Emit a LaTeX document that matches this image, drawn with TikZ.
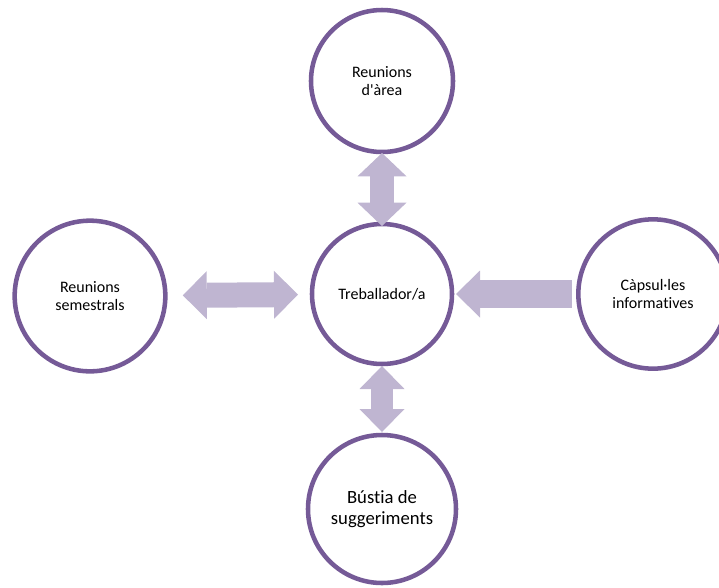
\documentclass[tikz,border=0pt]{standalone}
\usepackage{fontspec}
\setmainfont{Carlito}[Ligatures={TeXOff,NoCommon}]
\usetikzlibrary{arrows.meta}
\definecolor{ringpurple}{RGB}{117,90,151}
\definecolor{arrowlilac}{RGB}{191,181,209}

\begin{document}
\begin{tikzpicture}[x=0.75pt,y=-0.75pt,
    bubble/.style={circle, draw=ringpurple, line width=3.4pt, align=center, inner sep=0pt, outer sep=0pt, font=\fontsize{12}{13}\selectfont},
    fatarrow/.style={draw=arrowlilac, line width=#1}]

                \useasboundingbox (0,0) rectangle (719,587);

                \node[bubble, minimum size=106.5pt] (reunarea) at (382,81) {Reunions\\d'àrea};
                \node[bubble, minimum size=105pt] (worker) at (382,294) {Treballador/a};
                \node[bubble, minimum size=113pt] (reunsem) at (90,296) {Reunions\\semestrals};
                \node[bubble, minimum size=112pt] (capsules) at (653,294) {Càpsul·les\\informatives};
                \node[bubble, minimum size=111pt, font=\fontsize{14}{15.5}\selectfont] (bustia) at (382,509) {Bústia de\\suggeriments};

                \draw[fatarrow=18pt, arrows={Triangle[width=36.75pt,length=17.5pt,line width=0pt]-Triangle[width=36.75pt,length=17.5pt,line width=0pt]}, shorten <=0.75pt, shorten >=-1.5pt] (reunarea) -- (worker);
                \draw[fatarrow=18.75pt, arrows={Triangle[width=36pt,length=18pt,line width=0pt]-Triangle[width=36pt,length=18pt,line width=0pt]}, shorten <=13.1pt, shorten >=10.5pt] (reunsem) -- (worker);
                \draw[fatarrow=21pt, arrows={-Triangle[width=35.25pt,length=18pt,line width=0pt]}, shorten <=4.9pt, shorten >=3pt] (capsules) -- (worker);
                \draw[fatarrow=16.5pt, arrows={Triangle[width=33.75pt,length=17.25pt,line width=0pt]-Triangle[width=33.75pt,length=17.25pt,line width=0pt]}, shorten <=1.5pt, shorten >=2.25pt] (worker) -- (bustia);

\end{tikzpicture}
\end{document}
